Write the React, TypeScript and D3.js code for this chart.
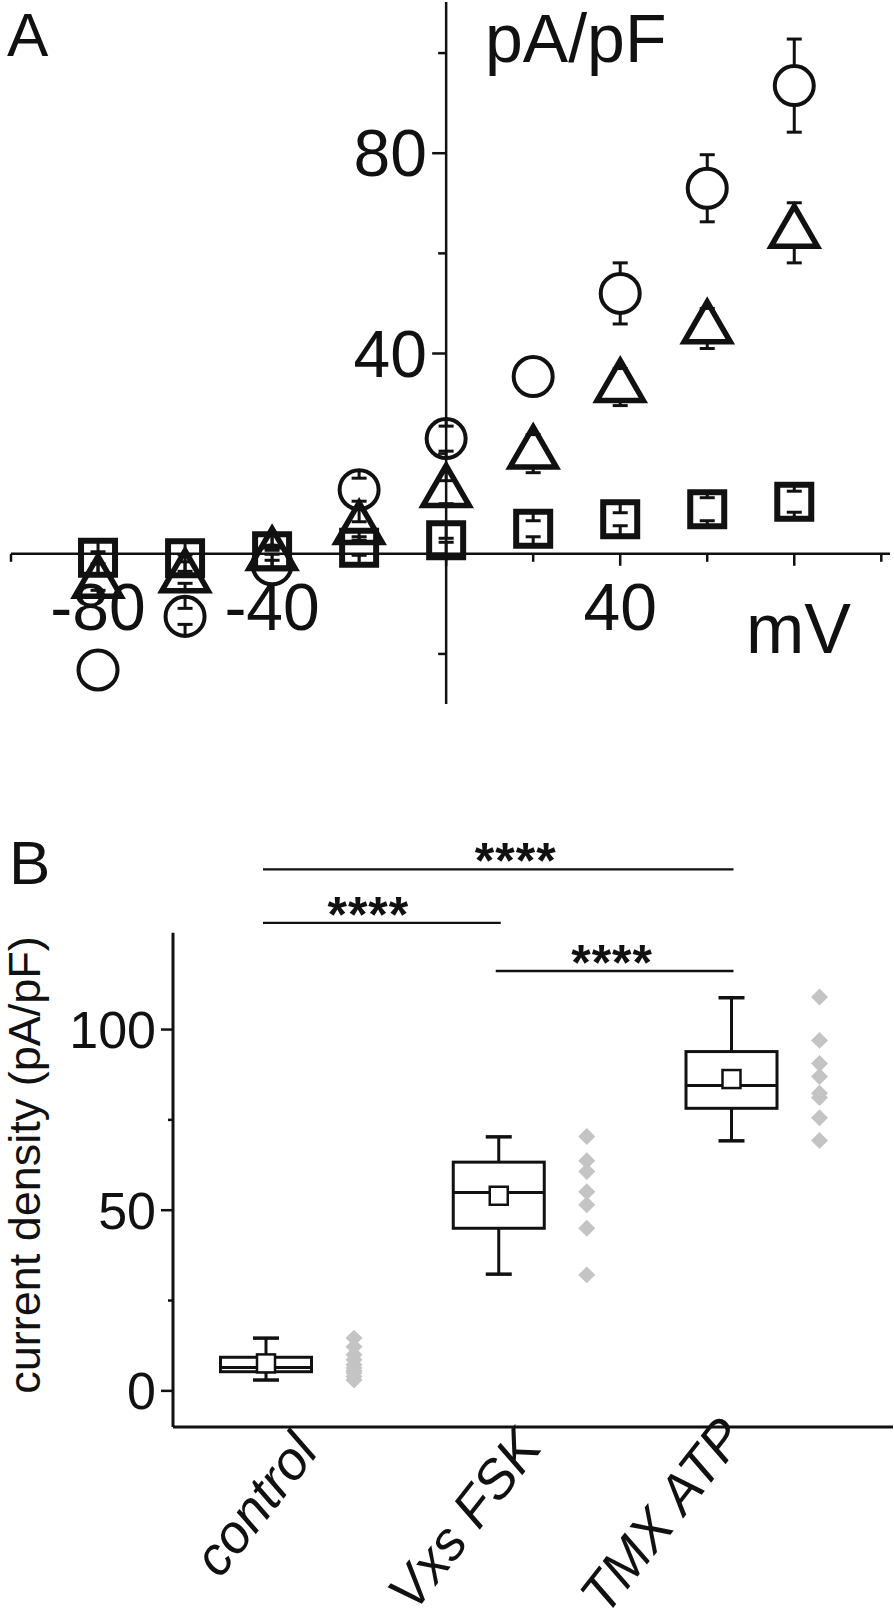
import React from 'react';
import * as d3 from 'd3';

const W = 894;
const H = 1624;
const FONT = '"Liberation Sans", Arial, Helvetica, sans-serif';
const INK = '#111';

// ---- panel A: current density vs voltage (mean ± SEM) ----
const voltages = [-80, -60, -40, -20, 0, 20, 40, 60, 80];
const circleMean = [-23.2, -12.5, -2.2, 12.8, 23.0, 35.4, 52.0, 73.0, 93.5];
const circleErr = [null, 1.6, null, 2.3, 2.5, null, 6.1, 6.7, 9.3];
const triangleMean = [-5.8, -4.7, -0.3, 4.9, 12.3, 20.0, 33.3, 45.0, 64.1];
const triangleErr = [1.5, 1.2, 1.0, 1.5, 2.3, 3.8, 3.7, 4.0, 6.0];
const squareMean = [-0.8, -0.9, 0.5, 1.2, 2.7, 5.0, 6.9, 8.9, 10.4];
const squareErr = [1.2, 0.7, 0.6, 1.5, 0.4, 1.6, 1.3, 2.3, 2.1];

const xTicksA = [-100, -80, -60, -40, -20, 0, 20, 40, 60, 80, 100];
const xLabelsA = [-80, -40, 40];
const yTicksA = [-20, 0, 20, 40, 60, 80, 100];
const yLabelsA = [40, 80];

// ---- panel B: box charts ----
const groups = ['control', 'Vxs FSK', 'TMX ATP'];
const whiskerLow = [3.0, 32.3, 69.2];
const q1 = [5.3, 45.0, 78.2];
const median = [6.5, 54.9, 84.5];
const q3 = [9.3, 63.3, 93.9];
const whiskerHigh = [14.6, 70.3, 108.8];
const means = [7.6, 54.0, 86.3];
const controlPts = [14.6, 12.2, 10.0, 8.6, 7.2, 6.3, 5.6, 5.0, 4.0, 3.0];
const vxsPts = [70.4, 63.7, 60.7, 55.1, 51.5, 45.0, 32.1];
const tmxPts = [109.0, 97.0, 90.6, 87.0, 82.4, 81.2, 75.6, 69.3];
const yTicksB = [0, 25, 50, 75, 100];
const yLabelsB = [0, 50, 100];
const sigFrom = [0, 0, 1];
const sigTo = [2, 1, 2];
const sigLevel = [144.3, 129.5, 116.2];
const sigText = ['****', '****', '****'];

export default function App() {
  // panel A scales
  const xA = d3.scaleLinear().domain([-100, 102]).range([11, 890]);
  const yA = d3.scaleLinear().domain([-30, 110.2]).range([704, 2]);
  const x0 = xA(0);
  const y0 = yA(0);

  const series = [
    { mean: circleMean, err: circleErr, type: d3.symbolCircle, size: 1195, top: 19.5, bot: 19.5, sw: 4 },
    { mean: triangleMean, err: triangleErr, type: d3.symbolTriangle, size: 923, top: 26.7, bot: 13.3, sw: 5.5 },
    { mean: squareMean, err: squareErr, type: d3.symbolSquare, size: 1156, top: 17, bot: 17, sw: 6 },
  ];

  // panel B scales
  const xB = d3.scaleLinear().domain([0, 2]).range([266, 731.5]);
  const yB = d3.scaleLinear().domain([-10, 126.8]).range([1427, 932.7]);
  const ptsB = [controlPts, vxsPts, tmxPts];
  const boxW = 91;
  const diamond = d3.symbol().type(d3.symbolSquare).size(144)();
  // label placement (baseline middle) relative to box centre
  const labelDx = [4, -20, -55];
  const labelY = [1516, 1531, 1527];
  const starDx = [17, -14, -3];

  return (
    <svg width={W} height={H} style={{ position: 'absolute', left: 0, top: 0, background: '#fff' }}
      fontFamily={FONT}>
      <rect width={W} height={H} fill="#fff" />

      {/* ===== Panel A ===== */}
      <text x={7} y={56} fontSize={62} fill={INK}>A</text>

      {/* axes */}
      <line x1={xA(-100)} x2={xA(102)} y1={y0} y2={y0} stroke={INK} strokeWidth={2.5} />
      <line x1={x0} x2={x0} y1={yA(110.2)} y2={yA(-30)} stroke={INK} strokeWidth={2.5} />
      {xTicksA.map(t => (
        <line key={'xt' + t} x1={xA(t)} x2={xA(t)} y1={y0} y2={y0 + (t % 40 === 0 ? 12 : 8)}
          stroke={INK} strokeWidth={2.5} />
      ))}
      {yTicksA.map(t => (
        <line key={'yt' + t} x1={x0 - (t % 40 === 0 ? 14 : 8)} x2={x0} y1={yA(t)} y2={yA(t)}
          stroke={INK} strokeWidth={2.5} />
      ))}
      {xLabelsA.map(t => (
        <text key={'xl' + t} x={xA(t)} y={630} fontSize={66} textAnchor="middle" fill={INK}>{t}</text>
      ))}
      {yLabelsA.map(t => (
        <text key={'yl' + t} x={427} y={yA(t) + 23} fontSize={66} textAnchor="end" fill={INK}>{t}</text>
      ))}
      <text x={746} y={653} fontSize={70} fill={INK}>mV</text>
      <text x={485} y={62} fontSize={68} fill={INK}>pA/pF</text>

      {/* error bars and markers */}
      {series.map((s, si) => (
        <g key={'s' + si}>
          {voltages.map((v, i) => {
            const e = s.err[i];
            if (e == null) return null;
            const cx = xA(v);
            const cy = yA(s.mean[i]);
            const hi = yA(s.mean[i] + e);
            const lo = yA(s.mean[i] - e);
            return (
              <g key={'e' + i} stroke={INK} strokeWidth={3}>
                <line x1={cx} x2={cx} y1={hi} y2={cy - s.top} />
                <line x1={cx} x2={cx} y1={lo} y2={cy + s.bot} />
                <line x1={cx - 7.5} x2={cx + 7.5} y1={hi} y2={hi} />
                <line x1={cx - 7.5} x2={cx + 7.5} y1={lo} y2={lo} />
              </g>
            );
          })}
          {voltages.map((v, i) => (
            <path key={'m' + i} d={d3.symbol().type(s.type).size(s.size)()}
              transform={`translate(${xA(v)},${yA(s.mean[i])})`}
              fill="none" stroke={INK} strokeWidth={s.sw} strokeLinejoin="miter" />
          ))}
        </g>
      ))}

      {/* ===== Panel B ===== */}
      <text x={9} y={884} fontSize={62} fill={INK}>B</text>

      {/* significance bars */}
      {sigFrom.map((a, i) => {
        const xa = xB(a);
        const xb = xB(sigTo[i]);
        const yy = yB(sigLevel[i]);
        return (
          <g key={'sig' + i}>
            <line x1={xa - 3} x2={xb + 2} y1={yy} y2={yy} stroke={INK} strokeWidth={2.3} />
            <text x={(xa + xb) / 2 + starDx[i]} y={yy + 9} fontSize={50} fontWeight="bold"
              textAnchor="middle" fill={INK} letterSpacing={1}>{sigText[i]}</text>
          </g>
        );
      })}

      {/* axes */}
      <line x1={173} x2={893} y1={yB(-10)} y2={yB(-10)} stroke={INK} strokeWidth={3} />
      <line x1={173} x2={173} y1={yB(126.8)} y2={yB(-10)} stroke={INK} strokeWidth={3} />
      {yTicksB.map(t => (
        <line key={'ybt' + t} x1={173 - (t % 50 === 0 ? 12 : 5)} x2={173} y1={yB(t)} y2={yB(t)}
          stroke={INK} strokeWidth={2.5} />
      ))}
      {yLabelsB.map(t => (
        <text key={'ybl' + t} x={156} y={yB(t) + 18.5} fontSize={52} textAnchor="end" fill={INK}>{t}</text>
      ))}
      <text transform="translate(40,1165) rotate(-90)" fontSize={45} textAnchor="middle" fill={INK}>
        current density (pA/pF)
      </text>

      {/* boxes */}
      {groups.map((g, i) => {
        const cx = xB(i);
        return (
          <g key={'box' + i} stroke={INK} strokeWidth={3} fill="none">
            <line x1={cx} x2={cx} y1={yB(whiskerHigh[i])} y2={yB(q3[i])} />
            <line x1={cx} x2={cx} y1={yB(q1[i])} y2={yB(whiskerLow[i])} />
            <line x1={cx - 13} x2={cx + 13} y1={yB(whiskerHigh[i])} y2={yB(whiskerHigh[i])} strokeWidth={3.5} />
            <line x1={cx - 13} x2={cx + 13} y1={yB(whiskerLow[i])} y2={yB(whiskerLow[i])} strokeWidth={3.5} />
            <rect x={cx - boxW / 2} width={boxW} y={yB(q3[i])} height={yB(q1[i]) - yB(q3[i])} />
            <line x1={cx - boxW / 2} x2={cx + boxW / 2} y1={yB(median[i])} y2={yB(median[i])} />
            <rect x={cx - 9} y={yB(means[i]) - 9} width={18} height={18} fill="#fff" strokeWidth={2.5} />
          </g>
        );
      })}
      {ptsB.map((pts, i) => (
        <g key={'pts' + i}>
          {pts.map((p, j) => (
            <path key={j} d={diamond} fill="#c4c4c4"
              transform={`translate(${xB(i) + 88},${yB(p)}) rotate(45)`} />
          ))}
        </g>
      ))}

      {/* category labels */}
      {groups.map((g, i) => (
        <text key={'cl' + i} transform={`translate(${xB(i) + labelDx[i]},${labelY[i]}) rotate(-52)`}
          fontSize={54} fontStyle="italic" textAnchor="middle" fill={INK}>{g}</text>
      ))}
    </svg>
  );
}
